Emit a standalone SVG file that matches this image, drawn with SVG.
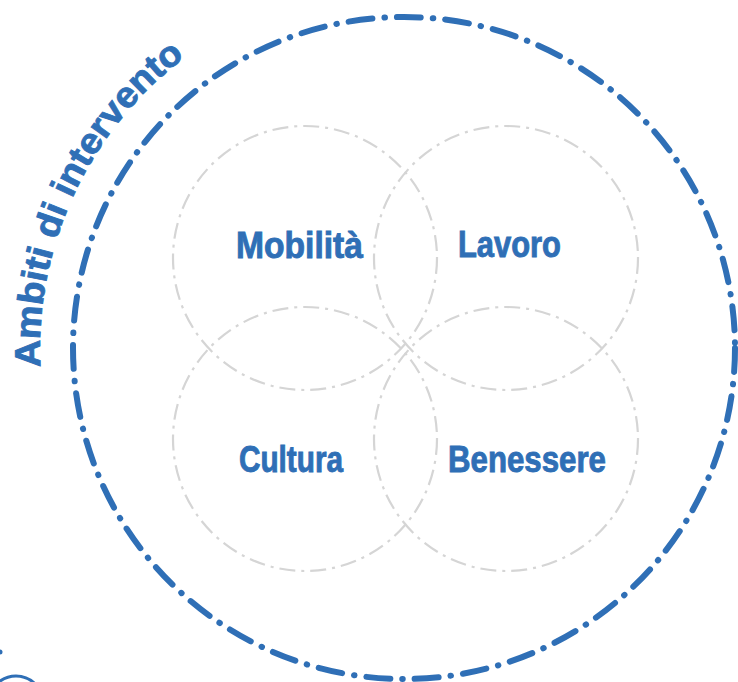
<svg xmlns="http://www.w3.org/2000/svg" width="738" height="682" viewBox="0 0 738 682">
<style>
.big{fill:none;stroke:#2f6fb6;stroke-width:6;stroke-linecap:round;stroke-dasharray:24 12 0.5 12}
.small{fill:none;stroke:#d5d5d5;stroke-width:2.2;stroke-dasharray:16 6 3 6}
.lbl{font-family:"Liberation Sans",Arial,sans-serif;font-weight:bold;font-size:36px;fill:#2f6fb6;stroke:#2f6fb6;stroke-width:0.9}
</style>
<defs>
<path id="arcText" d="M40.5,367 A364,364 0 0 1 222,32.8"/>
</defs>
<rect width="738" height="682" fill="#ffffff"/>
<g id="outer">
<circle class="big" cx="404" cy="348" r="331"/>
</g>
<g id="title">
<text class="lbl" font-size="35"><textPath href="#arcText" textLength="356" lengthAdjust="spacingAndGlyphs">Ambiti di intervento</textPath></text>
</g>
<g id="mobilita">
<circle class="small" cx="305" cy="258" r="132"/>
<text class="lbl" x="236" y="258" textLength="127" lengthAdjust="spacingAndGlyphs">Mobilità</text>
</g>
<g id="lavoro">
<circle class="small" cx="506" cy="258" r="132"/>
<text class="lbl" x="458" y="257" textLength="103" lengthAdjust="spacingAndGlyphs">Lavoro</text>
</g>
<g id="cultura">
<circle class="small" cx="305" cy="439" r="132"/>
<text class="lbl" x="239" y="472" textLength="104" lengthAdjust="spacingAndGlyphs">Cultura</text>
</g>
<g id="benessere">
<circle class="small" cx="506" cy="439" r="132"/>
<text class="lbl" x="448" y="472" textLength="158" lengthAdjust="spacingAndGlyphs">Benessere</text>
</g>
<g id="connectors"></g>
<g id="corner">
<circle cx="0" cy="652" r="2.5" fill="#2f6fb6"/>
<circle cx="16" cy="703" r="27" fill="none" stroke="#2f6fb6" stroke-width="3"/>
</g>
</svg>
